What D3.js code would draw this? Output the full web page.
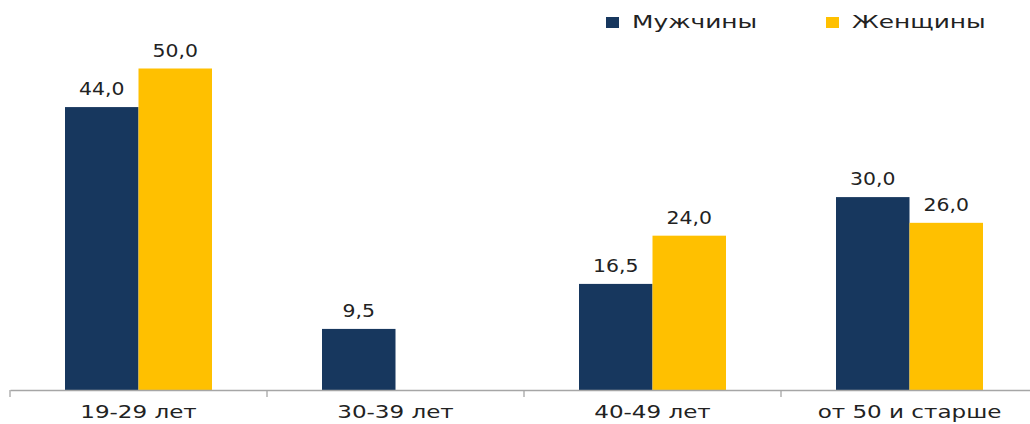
<!DOCTYPE html>
<html>
<head>
<meta charset="utf-8">
<script src="https://cdnjs.cloudflare.com/ajax/libs/d3/7.8.5/d3.min.js"></script>
<style>
  body { margin: 0; background: #fff; }
  text { font-family: "DejaVu Sans", Verdana, sans-serif; fill: #222; }
</style>
</head>
<body>
<div id="chart"></div>
<script>
var categories = ["19-29 лет", "30-39 лет", "40-49 лет", "от 50 и старше"];
var seriesNames = ["Мужчины", "Женщины"];
var men = [44.0, 9.5, 16.5, 30.0];
var women = [50.0, null, 24.0, 26.0];
var colors = ["#17375E", "#FFC000"];

function init(){
    var w = 1030;
    var h = 424;
    var base = 390;

    var svg = d3.select("#chart")
                .append("svg")
                .attr("width", w)
                .attr("height", h);

    var x = d3.scaleBand()
        .domain(categories)
        .range([10, 1038])
        .paddingInner(0)
        .paddingOuter(0);

    var inner = d3.scaleBand()
        .domain(seriesNames)
        .range([55, x.bandwidth() - 55]);

    var y = d3.scaleLinear()
        .domain([0, 50])
        .range([base, 68.5]);

    var rows = categories.map(function(c, i){
        return { cat: c, vals: [men[i], women[i]] };
    });

    // the original text looks stretched sideways
    function stretchedText(sel, tx, ty, str, size, sx, anchor){
        sel.append("text")
            .attr("transform", "translate(" + tx + "," + ty + ") scale(" + sx + ",1)")
            .attr("text-anchor", anchor || "middle")
            .style("font-size", size + "px")
            .text(str);
    }

    var groups = svg.selectAll("g.grp")
        .data(rows)
        .enter()
        .append("g")
        .attr("class", "grp")
        .attr("transform", function(d){ return "translate(" + x(d.cat) + ",0)"; });

    groups.each(function(d){
        var g = d3.select(this);
        d.vals.forEach(function(v, k){
            if (v == null) return;
            g.append("rect")
                .attr("x", inner(seriesNames[k]))
                .attr("y", y(v))
                .attr("width", inner.bandwidth())
                .attr("height", base - y(v))
                .style("fill", colors[k]);
            stretchedText(g, inner(seriesNames[k]) + inner.bandwidth() / 2, y(v) - 12,
                d3.format(".1f")(v).replace(".", ","), 17, 1.2);
        });
    });

    // axis
    var axis = d3.axisBottom(x).tickSize(0).tickFormat("");
    var ax = svg.append("g")
        .attr("transform", "translate(0," + base + ")")
        .call(axis);
    ax.select(".domain").attr("stroke", "#A6A6A6").attr("stroke-width", 1.3);

    var bounds = categories.map(function(c){ return x(c); });
    ax.selectAll("line.tk")
        .data(bounds)
        .enter()
        .append("line")
        .attr("class", "tk")
        .attr("x1", function(d){ return d; })
        .attr("x2", function(d){ return d; })
        .attr("y1", 0)
        .attr("y2", 7)
        .attr("stroke", "#A6A6A6")
        .attr("stroke-width", 1.3);

    categories.forEach(function(c){
        stretchedText(svg, x(c) + x.bandwidth() / 2, 418, c, 18, 1.28);
    });

    // legend
    var legX = [606, 826];
    seriesNames.forEach(function(s, k){
        svg.append("rect")
            .attr("x", legX[k])
            .attr("y", 17)
            .attr("width", 13)
            .attr("height", 11)
            .style("fill", colors[k]);
        stretchedText(svg, legX[k] + 26, 28, s, 17.5, 1.42, "start");
    });
}
window.onload = init;
</script>
</body>
</html>
